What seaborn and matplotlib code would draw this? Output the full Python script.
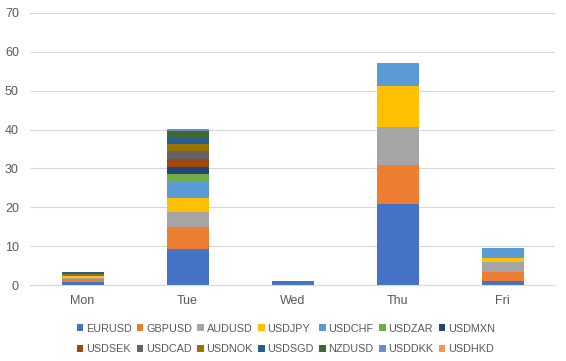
import matplotlib
matplotlib.use("Agg")
import matplotlib.pyplot as plt
import seaborn as sns
import numpy as np

days = ["Mon", "Tue", "Wed", "Thu", "Fri"]
pairs = ["EURUSD", "GBPUSD", "AUDUSD", "USDJPY", "USDCHF", "USDZAR", "USDMXN",
         "USDSEK", "USDCAD", "USDNOK", "USDSGD", "NZDUSD", "USDDKK", "USDHKD"]

# values per pair, Mon..Fri
EURUSD = [0.8, 9.3, 1.0, 20.8, 1.1]
GBPUSD = [0.7, 5.7, 0.0, 10.1, 2.3]
AUDUSD = [0.4, 3.9, 0.0, 9.8, 2.6]
USDJPY = [0.5, 3.6, 0.0, 10.6, 0.9]
USDCHF = [0.0, 4.0, 0.0, 5.9, 2.5]
USDZAR = [0.0, 2.1, 0.0, 0.0, 0.0]
USDMXN = [0.0, 1.7, 0.0, 0.0, 0.0]
USDSEK = [0.0, 2.1, 0.0, 0.0, 0.0]
USDCAD = [0.0, 2.1, 0.0, 0.0, 0.0]
USDNOK = [0.5, 1.8, 0.0, 0.0, 0.0]
USDSGD = [0.4, 1.6, 0.0, 0.0, 0.0]
NZDUSD = [0.0, 1.7, 0.0, 0.0, 0.0]
USDDKK = [0.0, 0.5, 0.0, 0.0, 0.0]
USDHKD = [0.0, 0.0, 0.0, 0.0, 0.0]

series = [EURUSD, GBPUSD, AUDUSD, USDJPY, USDCHF, USDZAR, USDMXN,
          USDSEK, USDCAD, USDNOK, USDSGD, NZDUSD, USDDKK, USDHKD]
colors = ["#4472C4", "#ED7D31", "#A5A5A5", "#FFC000", "#5B9BD5", "#70AD47", "#264478",
          "#9E480E", "#636363", "#997300", "#255E91", "#43682B", "#698ED0", "#F1975A"]

sns.set_style("white")
plt.rcParams["font.family"] = ["Liberation Sans", "DejaVu Sans"]

fig = plt.figure(figsize=(5.66, 3.61), dpi=100)
ax = fig.add_axes([0.053, 0.2105, 0.928, 0.7535])

bottom = np.zeros(len(days))
for name, vals, c in zip(pairs, series, colors):
    sns.barplot(x=days, y=vals, bottom=bottom, color=c, width=0.4, saturation=1,
                ax=ax, label=name, linewidth=0)
    bottom += np.array(vals)

ax.set_ylim(0, 70)
ax.set_xlim(-0.5, 4.5)
ax.set_yticks(range(0, 71, 10))
ax.yaxis.grid(True, color="#D9D9D9", linewidth=0.8)
ax.set_axisbelow(True)
for s in ["top", "right", "left"]:
    ax.spines[s].set_visible(False)
ax.spines["bottom"].set_color("#D9D9D9")
ax.tick_params(axis="both", length=0, colors="#595959", labelsize=9)
ax.tick_params(axis="y", pad=8)
ax.tick_params(axis="x", pad=7)
ax.set_xlabel("")
ax.set_ylabel("")

handles, labels = ax.get_legend_handles_labels()
if ax.legend_:
    ax.legend_.remove()
# row-major order for a 2x7 legend
order = [i + 7 * r for i in range(7) for r in range(2)]
fig.legend([handles[k] for k in order], [labels[k] for k in order],
           loc="lower center", bbox_to_anchor=(0.505, 0.0),
           ncol=7, frameon=False, fontsize=7.8, labelcolor="#595959",
           handlelength=0.6, handleheight=0.6, handletextpad=0.25,
           columnspacing=0.5, borderaxespad=0.2, labelspacing=1.0)

fig.savefig("out.png", dpi=100)
